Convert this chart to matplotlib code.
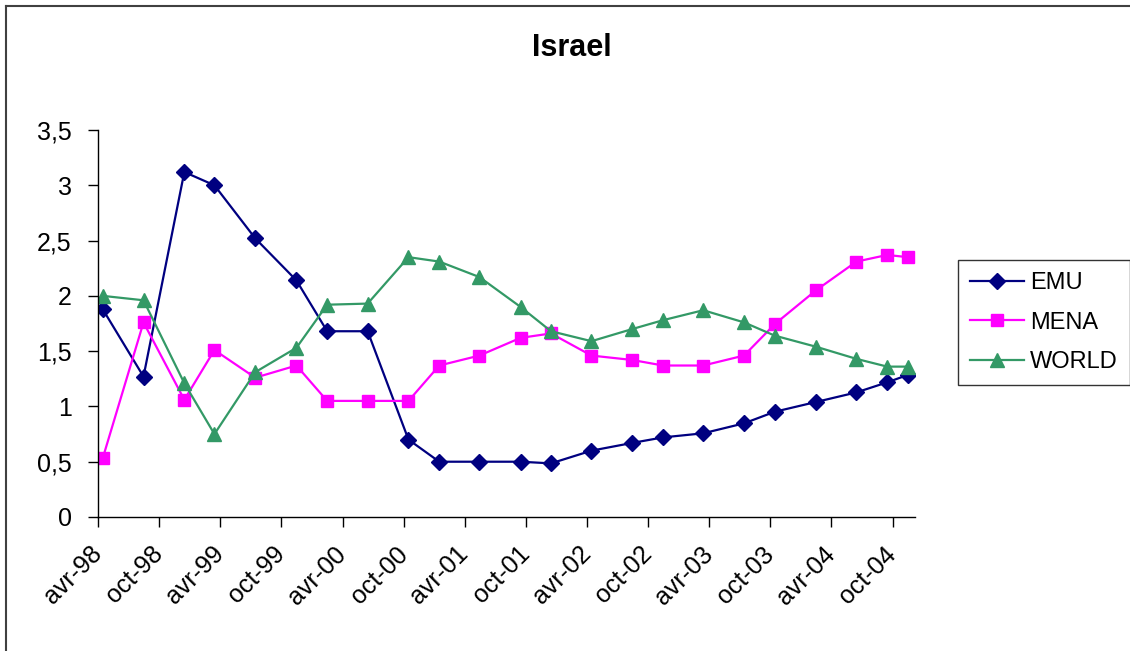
import datetime as dt
import matplotlib
matplotlib.use("Agg")
import matplotlib.pyplot as plt
import matplotlib.dates as mdates
from matplotlib.ticker import FuncFormatter
from matplotlib.lines import Line2D

plt.rcParams['font.family'] = ['Liberation Sans', 'DejaVu Sans']

# Observation dates (mid-month)
dates = ['1998-04-15', '1998-08-15', '1998-12-15', '1999-03-15', '1999-07-15',
         '1999-11-15', '2000-02-15', '2000-06-15', '2000-10-15', '2001-01-15',
         '2001-05-15', '2001-09-15', '2001-12-15', '2002-04-15', '2002-08-15',
         '2002-11-15', '2003-03-15', '2003-07-15', '2003-10-15', '2004-02-15',
         '2004-06-15', '2004-09-15', '2004-11-15']

emu = [1.88, 1.27, 3.12, 3.00, 2.52, 2.14, 1.68, 1.68, 0.70, 0.50, 0.50, 0.50,
       0.485, 0.60, 0.67, 0.72, 0.757, 0.847, 0.952, 1.04, 1.127, 1.218, 1.284]
mena = [0.53, 1.76, 1.06, 1.51, 1.26, 1.37, 1.05, 1.05, 1.05, 1.37, 1.46, 1.62,
        1.66, 1.46, 1.42, 1.37, 1.37, 1.46, 1.745, 2.05, 2.31, 2.37, 2.35]
world = [2.00, 1.96, 1.21, 0.75, 1.31, 1.53, 1.92, 1.93, 2.35, 2.31, 2.17, 1.90,
         1.68, 1.59, 1.70, 1.78, 1.87, 1.76, 1.64, 1.54, 1.43, 1.36, 1.36]

months_fr = {4: 'avr', 10: 'oct'}

x = [dt.datetime.strptime(d, '%Y-%m-%d') for d in dates]

W, H = 1130, 651
fig = plt.figure(figsize=(W / 100, H / 100), dpi=100)
ax = fig.add_axes([98 / W, 1 - 517 / H, (915 - 98) / W, (517 - 130) / H])

ax.plot(x, emu, color='#000080', lw=1.6, marker='D', ms=8.5, label='EMU')
ax.plot(x, mena, color='#FF00FF', lw=1.6, marker='s', ms=9, label='MENA')
ax.plot(x, world, color='#339966', lw=1.6, marker='^', ms=10.5, label='WORLD')

ax.set_ylim(0, 3.5)
ax.set_xlim(dt.datetime(1998, 4, 1), dt.datetime(2004, 12, 7))
ax.set_yticks([0, 0.5, 1, 1.5, 2, 2.5, 3, 3.5])
ax.yaxis.set_major_formatter(FuncFormatter(
    lambda v, p: ('%g' % v).replace('.', ',')))

ax.xaxis.set_major_locator(mdates.MonthLocator(bymonth=[4, 10]))
ax.xaxis.set_major_formatter(FuncFormatter(
    lambda v, p: '%s-%02d' % (months_fr[mdates.num2date(v).month],
                              mdates.num2date(v).year % 100)))

for s in ['top', 'right']:
    ax.spines[s].set_visible(False)
for s in ['left', 'bottom']:
    ax.spines[s].set_linewidth(1.0)

ax.tick_params(axis='both', direction='out', length=7, width=1, labelsize=18)
ax.tick_params(axis='y', pad=12)
ax.tick_params(axis='x', pad=17)
for lbl in ax.get_xticklabels():
    lbl.set_rotation(45)
    lbl.set_ha('right')
    lbl.set_va('center')
    lbl.set_rotation_mode('anchor')

fig.text(572 / W, 1 - 48 / H, 'Israel', ha='center', va='center',
         fontsize=22, fontweight='bold')

leg = fig.legend(loc='upper left', bbox_to_anchor=(958 / W, 1 - 260 / H),
                 fontsize=17, frameon=True, fancybox=False, edgecolor='black',
                 handlelength=2.3, handletextpad=0.25, borderpad=0.5,
                 labelspacing=0.75, borderaxespad=0)
leg.get_frame().set_linewidth(1.0)

# outer chart border (top and left edges)
fig.add_artist(Line2D([6 / W, 6 / W], [0, 1 - 6 / H], transform=fig.transFigure,
                      color='#404040', lw=1.5))
fig.add_artist(Line2D([6 / W, 1], [1 - 6 / H, 1 - 6 / H], transform=fig.transFigure,
                      color='#404040', lw=1.5))

fig.savefig('out.png', dpi=100)
